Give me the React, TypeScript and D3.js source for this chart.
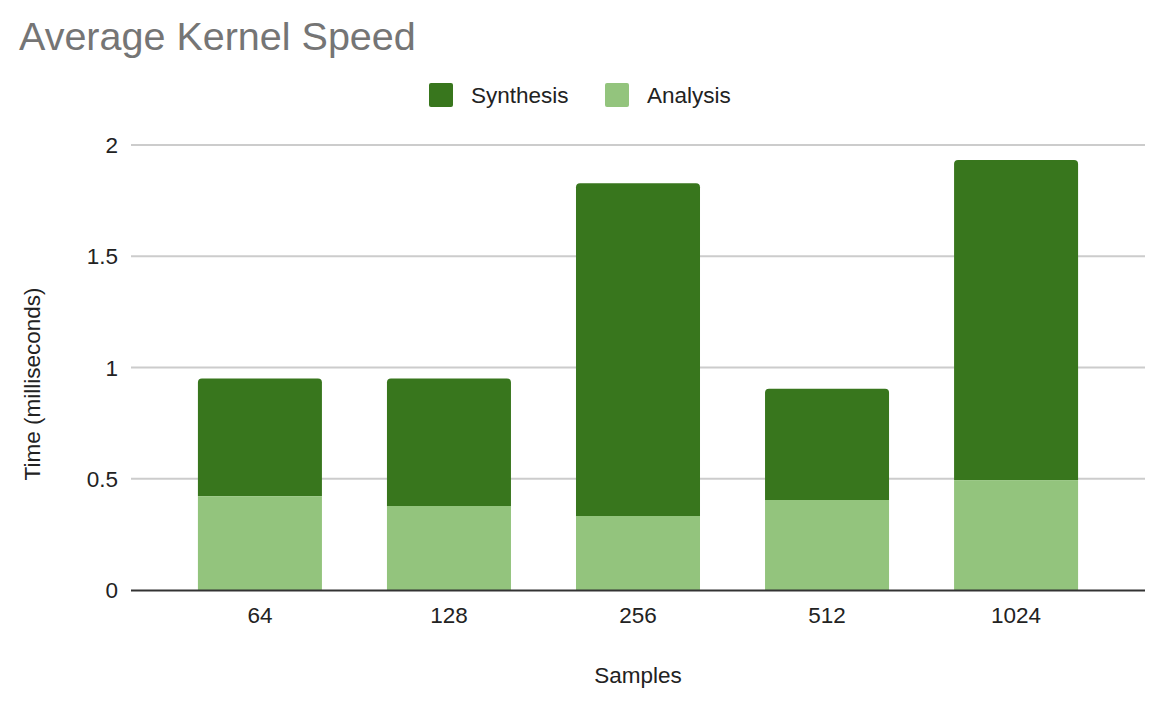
import React from "react";
import * as d3 from "d3";

const categories = ["64", "128", "256", "512", "1024"];
const analysis = [0.422, 0.378, 0.333, 0.405, 0.494];
const synthesis = [0.529, 0.573, 1.495, 0.5, 1.439];
const yTicks = [0, 0.5, 1, 1.5, 2];
const seriesNames = ["Synthesis", "Analysis"];
const seriesColors = ["#38761d", "#93c47d"];

const W = 1168;
const H = 702;
const left = 131;
const right = 1145;
const top = 145;
const bottom = 590;
const font = "'Liberation Sans', Arial, sans-serif";
const fs = 22.5;

function topRoundedRect(x: number, y: number, w: number, h: number, r: number) {
  const rr = Math.min(r, h, w / 2);
  return `M${x},${y + h}V${y + rr}Q${x},${y} ${x + rr},${y}H${x + w - rr}Q${x + w},${y} ${x + w},${y + rr}V${y + h}Z`;
}

export default function App() {
  const x = d3.scaleBand<string>().domain(categories).range([left, right]).paddingInner(0.344).paddingOuter(0.354);
  const y = d3.scaleLinear().domain([0, 2]).range([bottom, top]);

  const rows = categories.map((c, i) => ({ cat: c, Analysis: analysis[i], Synthesis: synthesis[i] }));
  const stack = d3.stack<any>().keys(["Analysis", "Synthesis"]);
  const layers = stack(rows);

  return (
    <svg width={W} height={H} style={{ position: "absolute", left: 0, top: 0, background: "#fff" }}>
      <rect width={W} height={H} fill="#fff" />
      <text x={19} y={50} fontFamily={font} fontSize={39.5} fill="#757575">
        Average Kernel Speed
      </text>
      {/* legend */}
      {seriesNames.map((n, i) => {
        const lx = i === 0 ? 429 : 605;
        return (
          <g key={n}>
            <rect x={lx} y={83} width={24} height={24} rx={2} fill={seriesColors[i]} />
            <text x={lx + 42} y={103} fontFamily={font} fontSize={fs} fill="#222">
              {n}
            </text>
          </g>
        );
      })}
      {/* gridlines */}
      {yTicks.map((t) => (
        <g key={t}>
          {t !== 0 && <line x1={left} x2={right} y1={y(t)} y2={y(t)} stroke="#cccccc" strokeWidth={2} />}
          <text x={118} y={y(t) + 8} textAnchor="end" fontFamily={font} fontSize={fs} fill="#222">
            {t}
          </text>
        </g>
      ))}
      {/* bars */}
      {layers.map((layer) => {
        const isTop = layer.key === "Synthesis";
        const color = isTop ? seriesColors[0] : seriesColors[1];
        return layer.map((d: any, i: number) => {
          const bx = x(categories[i])!;
          const bw = x.bandwidth();
          const y0 = y(d[0]);
          const y1 = y(d[1]);
          return isTop ? (
            <path key={layer.key + i} d={topRoundedRect(bx, y1, bw, y0 - y1, 4)} fill={color} />
          ) : (
            <rect key={layer.key + i} x={bx} y={y1} width={bw} height={y0 - y1} fill={color} />
          );
        });
      })}
      <line x1={left} x2={right} y1={y(0) + 0.5} y2={y(0) + 0.5} stroke="#333" strokeWidth={2} />
      {/* x labels */}
      {categories.map((c) => (
        <text key={c} x={x(c)! + x.bandwidth() / 2} y={623} textAnchor="middle" fontFamily={font} fontSize={fs} fill="#222">
          {c}
        </text>
      ))}
      <text x={638} y={683} textAnchor="middle" fontFamily={font} fontSize={fs} fill="#222">
        Samples
      </text>
      <text
        transform={`translate(40,384) rotate(-90)`}
        textAnchor="middle"
        fontFamily={font}
        fontSize={fs}
        fill="#222"
      >
        Time (milliseconds)
      </text>
    </svg>
  );
}
